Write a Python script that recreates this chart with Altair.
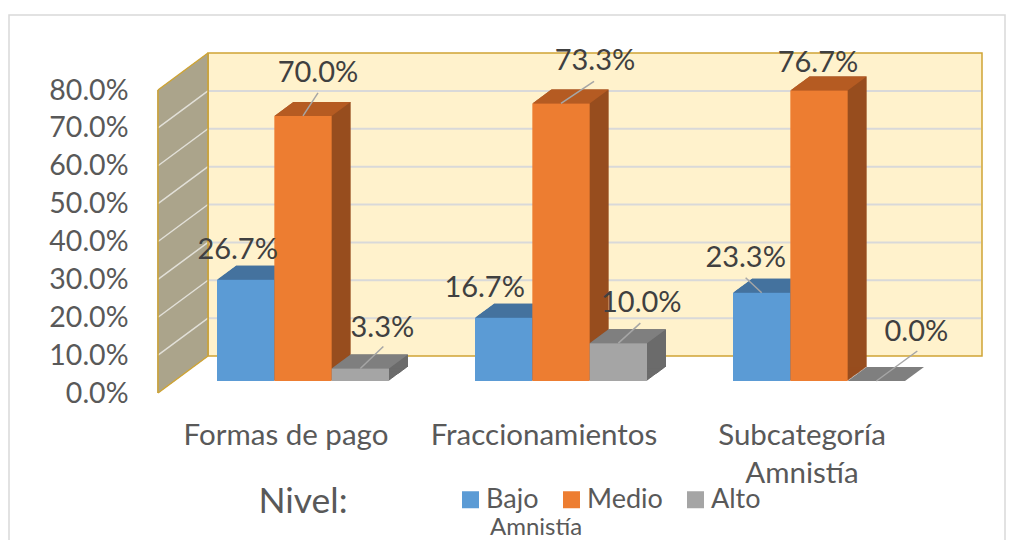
import altair as alt
import pandas as pd

# ---------------- data ----------------
categories = ["Formas de pago", "Fraccionamientos", "Subcategoría Amnistía"]
series = ["Bajo", "Medio", "Alto"]
bajo = [0.267, 0.167, 0.233]
medio = [0.700, 0.733, 0.767]
alto = [0.033, 0.100, 0.000]
y_ticks = [0.0, 0.1, 0.2, 0.3, 0.4, 0.5, 0.6, 0.7, 0.8]

front_colors = ["#5B9BD5", "#ED7D31", "#A5A5A5"]
top_colors = ["#44729E", "#B55B22", "#7F7F7F"]
side_colors = ["#3A6591", "#974D1E", "#6B6B6B"]

rows = []
for i, cat in enumerate(categories):
    for s, vals in zip(series, (bajo, medio, alto)):
        rows.append({"cat": cat, "serie": s, "value": vals[i]})
df = pd.DataFrame(rows)
inner_df = pd.DataFrame({"t": y_ticks[1:-1]})
wall_df = pd.DataFrame({"top": [max(y_ticks)], "bottom": [min(y_ticks)]})
one_df = pd.DataFrame({"t": ["Nivel:"]})
extra_df = pd.DataFrame({"t": ["Amnistía"]})

# ---------------- style ----------------
W, H = 774, 303
FONT = "Lato"
GOLD = "#CFA434"
WALL = "#FFF2CC"
SIDE_WALL = "#A39C80"
GRID = "#D9D9D9"
DX, DY = 19, 14          # bar depth
BACK_DX, BACK_DY = 34, -25
FRONT_DX, FRONT_DY = -16, 12
BW = W / 3 * (2 / 3) / 3  # width of one bar in pixels

x_scale = alt.Scale(domain=categories, paddingInner=1 / 3, paddingOuter=1 / 6)
xo_scale = alt.Scale(domain=series, paddingInner=0, paddingOuter=0)
y_scale = alt.Scale(domain=[0, 0.8], nice=False)
color_domain = series + [s + " top" for s in series]
color_range = front_colors + top_colors
c_scale = alt.Scale(domain=color_domain, range=color_range)

x_axis = alt.Axis(
    domain=False, ticks=False, tickSize=0, labelFont=FONT, labelFontSize=29.5, labelColor="#595959",
    labelPadding=40, labelOffset=-17, labelAngle=0, labelLineHeight=38, labelLimit=400,
    labelExpr="datum.value == 'Subcategoría Amnistía' ? ['Subcategoría', 'Amnistía'] : datum.label",
    title=None,
)
y_axis = alt.Axis(
    values=y_ticks, format=".1%", domain=False, ticks=False, tickSize=0, grid=False,
    labelFont=FONT, labelFontSize=28.5, labelColor="#595959", labelPadding=46, labelOffset=12,
    labelFlush=False, title=None,
)
legend = alt.Legend(
    title=None, values=series, orient="none", legendX=283, legendY=408,
    direction="horizontal", symbolType="square", symbolSize=289, symbolStrokeWidth=0,
    symbolOpacity=1, labelFont=FONT, labelFontSize=27, labelColor="#595959",
    labelOffset=2, columnPadding=19, padding=0,
)


def X():
    return alt.X("cat:N", scale=x_scale, axis=x_axis, title=None)


def XO():
    return alt.XOffset("serie:N", scale=xo_scale)


def Y(field="value"):
    return alt.Y(f"{field}:Q", scale=y_scale, axis=y_axis, stack=None, title=None)


layers = []

# outer frame
layers.append(
    alt.Chart(one_df).mark_rect(fillOpacity=0, stroke="#D9D9D9", strokeWidth=1.5).encode(
        x=alt.value(-165), x2=alt.value(831), y=alt.value(-63), y2=alt.value(620)
    )
)

# back wall
layers.append(
    alt.Chart(wall_df).mark_rect(
        fill=WALL, stroke=GOLD, strokeWidth=1.5,
        xOffset=BACK_DX, x2Offset=BACK_DX, yOffset=BACK_DY, y2Offset=BACK_DY,
    ).encode(x=alt.value(0), x2=alt.value("width"), y=Y("top"), y2="bottom:Q")
)
layers.append(
    alt.Chart(inner_df).mark_rule(
        color=GRID, strokeWidth=2, xOffset=BACK_DX, x2Offset=BACK_DX - 1, yOffset=BACK_DY,
    ).encode(x=alt.value(1), x2=alt.value("width"), y=Y("t"))
)

# side wall (left) made of vertical strips
NS = BACK_DX - FRONT_DX
for k in range(NS + 1):
    off = FRONT_DY + (BACK_DY - FRONT_DY) * k / NS
    layers.append(
        alt.Chart(wall_df).mark_rule(color=SIDE_WALL, strokeWidth=1.4, yOffset=off, y2Offset=off).encode(
            x=alt.value(FRONT_DX + k), y=Y("top"), y2="bottom:Q"
        )
    )
layers.append(
    alt.Chart(inner_df).mark_rule(color="#E2E0D8", strokeWidth=1.5, yOffset=FRONT_DY, y2Offset=BACK_DY).encode(
        x=alt.value(FRONT_DX), x2=alt.value(BACK_DX), y=Y("t"), y2="t:Q"
    )
)
for fld in ("top", "bottom"):
    layers.append(
        alt.Chart(wall_df).mark_rule(color=GOLD, strokeWidth=1.5, yOffset=FRONT_DY, y2Offset=BACK_DY).encode(
            x=alt.value(FRONT_DX), x2=alt.value(BACK_DX), y=Y(fld), y2=f"{fld}:Q"
        )
    )
for xv, off in ((FRONT_DX, FRONT_DY), (BACK_DX, BACK_DY)):
    layers.append(
        alt.Chart(wall_df).mark_rule(color=GOLD, strokeWidth=1.5, yOffset=off, y2Offset=off).encode(
            x=alt.value(xv), y=Y("top"), y2="bottom:Q"
        )
    )

# bar side faces: shifted copies of each series' bars
for i, s in enumerate(series):
    for k in range(1, DX + 1):
        off = -k * DY / DX
        layers.append(
            alt.Chart(df).transform_filter(alt.datum.serie == s).mark_bar(
                color=side_colors[i], width=alt.RelativeBandSize(1 / 3),
                xOffset=(i - 1) * BW + k, yOffset=off, y2Offset=off,
            ).encode(x=X(), y=Y(), y2=alt.Y2(datum=0))
        )

# bar top faces: parallelogram symbols at each bar top
L = BW / 2 + DX
top_path = "M{:.4f},0L{:.4f},0L{:.4f},{:.4f}L{:.4f},{:.4f}Z".format(
    -BW / 2 / L, BW / 2 / L, 1.0, -DY / L, (-BW / 2 + DX) / L, -DY / L
)
layers.append(
    alt.Chart(df).transform_calculate(key="datum.serie + ' top'").mark_point(
        shape=top_path, size=(2 * L) ** 2, filled=True, opacity=1, strokeWidth=0
    ).encode(x=X(), xOffset=XO(), y=Y(), color=alt.Color("key:N", scale=c_scale, legend=legend))
)

# bar fronts
layers.append(
    alt.Chart(df).mark_bar().encode(
        x=X(), xOffset=XO(), y=Y("value"), y2=alt.Y2(datum=0),
        color=alt.Color("serie:N", scale=c_scale, legend=legend),
    )
)

# leader lines and data labels
leaders = {
    (0, "Medio"): (15, -23), (0, "Alto"): (23, -22),
    (1, "Medio"): (33, -22), (1, "Alto"): (22, -20),
    (2, "Bajo"): (-16, -15), (2, "Alto"): (41, -30),
}
label_pos = {
    (0, "Bajo"): (-8, -30), (0, "Medio"): (15, -42.6), (0, "Alto"): (22, -41),
    (1, "Bajo"): (-19, -29.4), (1, "Medio"): (34, -42), (1, "Alto"): (23, -40),
    (2, "Bajo"): (-16, -35), (2, "Medio"): (-1, -27), (2, "Alto"): (40, -49.5),
}
for (ci, s), (ldx, ldy) in leaders.items():
    LL = max(abs(ldx), abs(ldy))
    path = "M0,0L{:.4f},{:.4f}".format(ldx / LL, ldy / LL)
    layers.append(
        alt.Chart(df).transform_filter(
            (alt.datum.cat == categories[ci]) & (alt.datum.serie == s)
        ).mark_point(shape=path, size=(2 * LL) ** 2, filled=False, color="#A6A6A6",
                     strokeWidth=1.5, opacity=1).encode(x=X(), xOffset=XO(), y=Y())
    )
for (ci, s), (tdx, tdy) in label_pos.items():
    layers.append(
        alt.Chart(df).transform_filter(
            (alt.datum.cat == categories[ci]) & (alt.datum.serie == s)
        ).mark_text(font=FONT, fontSize=29, color="#404040", dx=tdx, dy=tdy,
                    align="center", baseline="middle").encode(
            x=X(), xOffset=XO(), y=Y(), text=alt.Text("value:Q", format=".1%")
        )
    )

# legend caption texts
layers.append(
    alt.Chart(one_df).mark_text(font=FONT, fontSize=35.5, color="#595959", align="center",
                                baseline="middle").encode(
        text="t:N", x=alt.value(129), y=alt.value(424)
    )
)
layers.append(
    alt.Chart(extra_df).mark_text(font=FONT, fontSize=24, color="#595959", align="left",
                                  baseline="alphabetic").encode(
        text="t:N", x=alt.value(316), y=alt.value(456.5)
    )
)

chart = alt.layer(*layers).properties(
    width=W, height=H,
    padding={"left": 166, "top": 70, "right": 60, "bottom": 159},
    autosize=alt.AutoSizeParams(type="none"),
    background="white",
).configure_view(strokeWidth=0)

chart.save("out.html", embed_options={"renderer": "svg", "actions": False})
